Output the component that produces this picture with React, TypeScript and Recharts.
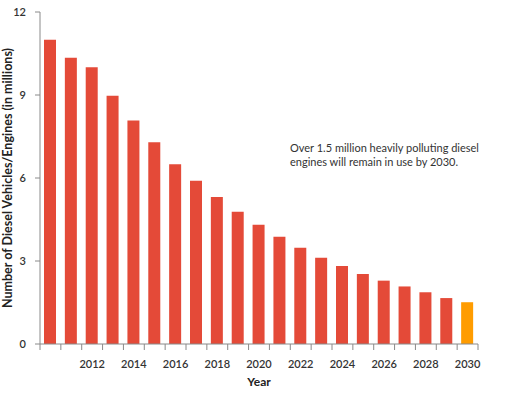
import React from "react";
import { BarChart, Bar, XAxis, YAxis, Cell, Label } from "recharts";

const years = [
  2010, 2011, 2012, 2013, 2014, 2015, 2016, 2017, 2018, 2019, 2020,
  2021, 2022, 2023, 2024, 2025, 2026, 2027, 2028, 2029, 2030,
];
const vehicles = [
  11.0, 10.35, 10.0, 8.97, 8.08, 7.29, 6.5, 5.9, 5.31, 4.78, 4.31,
  3.88, 3.48, 3.12, 2.82, 2.53, 2.29, 2.08, 1.87, 1.66, 1.51,
];
const yTicks = [0, 3, 6, 9, 12];
const labelYears = [2012, 2014, 2016, 2018, 2020, 2022, 2024, 2026, 2028, 2030];

const RED = "#e44a38";
const ORANGE = "#ff9c00";
const AXIS = "#8a8a8a";
const TEXT = "#333";
const FONT = "Lato, 'Open Sans', sans-serif";

const data = years.map((y, i) => ({ year: y, value: vehicles[i] }));

function XTick(props: any) {
  const { x, y, payload, index, visibleTicksCount } = props;
  const off = payload?.offset ?? 10.4;
  const axisY = y - 8;
  const isLast = index === (visibleTicksCount ?? years.length) - 1;
  return (
    <g>
      <line x1={x - off} x2={x - off} y1={axisY} y2={axisY + 6} stroke={AXIS} strokeWidth={1} />
      {isLast && (
        <line x1={x + off} x2={x + off} y1={axisY} y2={axisY + 6} stroke={AXIS} strokeWidth={1} />
      )}
      {labelYears.includes(payload.value) && (
        <text x={x} y={axisY + 24} textAnchor="middle" fontSize={11} fontWeight={600} fill={TEXT} fontFamily={FONT}>
          {payload.value}
        </text>
      )}
    </g>
  );
}

function YTitle() {
  const cy = 178;
  const cx = 7;
  return (
    <text
      x={cx}
      y={cy}
      transform={`rotate(-90, ${cx}, ${cy})`}
      textAnchor="middle"
      dominantBaseline="central"
      fontSize={12.5}
      fontWeight={700}
      fill="#222"
      fontFamily={FONT}
    >
      Number of Diesel Vehicles/Engines (in millions)
    </text>
  );
}

export default function App() {
  return (
    <div style={{ position: "relative", width: 511, height: 400, background: "#fff" }}>
      <style>{`body{margin:0}`}</style>
      <BarChart
        width={511}
        height={400}
        data={data}
        margin={{ top: 12, right: 33, bottom: 0, left: 0 }}
        barSize={12}
      >
        <XAxis
          dataKey="year"
          height={56}
          axisLine={{ stroke: AXIS }}
          tickLine={false}
          tickSize={6}
          tickMargin={2}
          interval={0}
          tick={<XTick />}
        >
          <Label
            value="Year"
            position="insideBottom"
            offset={14}
            fontSize={12}
            fontWeight={700}
            fill="#222"
            fontFamily={FONT}
          />
        </XAxis>
        <YAxis
          domain={[0, 12]}
          ticks={yTicks}
          width={40}
          axisLine={{ stroke: AXIS }}
          tickLine={{ stroke: AXIS }}
          tickSize={5}
          tickMargin={9}
          tick={{ fontSize: 11, fontWeight: 600, fill: TEXT, fontFamily: FONT }}
        >
          <Label content={<YTitle />} />
        </YAxis>
        <Bar dataKey="value" isAnimationActive={false}>
          {data.map((d, i) => (
            <Cell key={i} fill={i === data.length - 1 ? ORANGE : RED} />
          ))}
        </Bar>
      </BarChart>
      <div
        style={{
          position: "absolute",
          left: 290,
          top: 141,
          fontFamily: FONT,
          fontSize: 11,
          lineHeight: "14px",
          color: TEXT,
          width: 210,
        }}
      >
        Over 1.5 million heavily polluting diesel
        <br />
        engines will remain in use by 2030.
      </div>
    </div>
  );
}
